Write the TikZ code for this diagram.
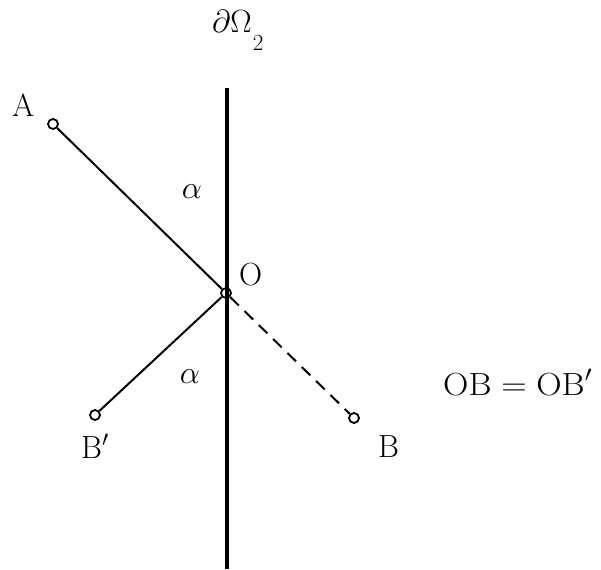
\RequirePackage{fix-cm}
\documentclass[tikz,border=0pt]{standalone}
\begin{document}
\begin{tikzpicture}[x=1pt,y=-1pt,
  ptmark/.style={circle,draw,line width=1.8pt,inner sep=0pt,minimum size=10pt},
  lbl/.style={font=\fontsize{32}{38}\selectfont,inner sep=0pt},
  seg/.style={line width=2pt},
  wall/.style={line width=4.2pt}]
\useasboundingbox (0,0) rectangle (601,569);
\coordinate (top) at (227,88);
\coordinate (bot) at (227,569);
\draw[wall] (top) -- (bot);
\node[ptmark] (A) at (53,124) {};
\node[ptmark] (O) at (226,293) {};
\node[ptmark] (Bp) at (95,415) {};
\node[ptmark] (B) at (354,418) {};
\draw[seg] (A) -- (O);
\draw[seg] (O) -- (Bp);
\draw[seg,dash pattern=on 12pt off 8pt] (O) -- (B);
\node[lbl,anchor=base west] (lbd) at (212,33) {$\partial\Omega$\kern1pt\lower18pt\hbox{\fontsize{23}{27}\selectfont 2}};
\node[lbl,anchor=base west] (lA) at (12,117) {A};
\node[lbl,anchor=base west] (lO) at (239,285) {O};
\node[lbl,anchor=base west] (lBp) at (81,458) {B$'$};
\node[lbl,anchor=base west] (lB) at (378,457) {B};
\node[lbl] (a1) at (192,192) {$\alpha$};
\node[lbl] (a2) at (190,377) {$\alpha$};
\node[lbl,anchor=base west] (eq) at (443,395) {\scalebox{1.1}[1]{$\mathrm{OB}=\mathrm{OB}'$}};
\end{tikzpicture}
\end{document}
